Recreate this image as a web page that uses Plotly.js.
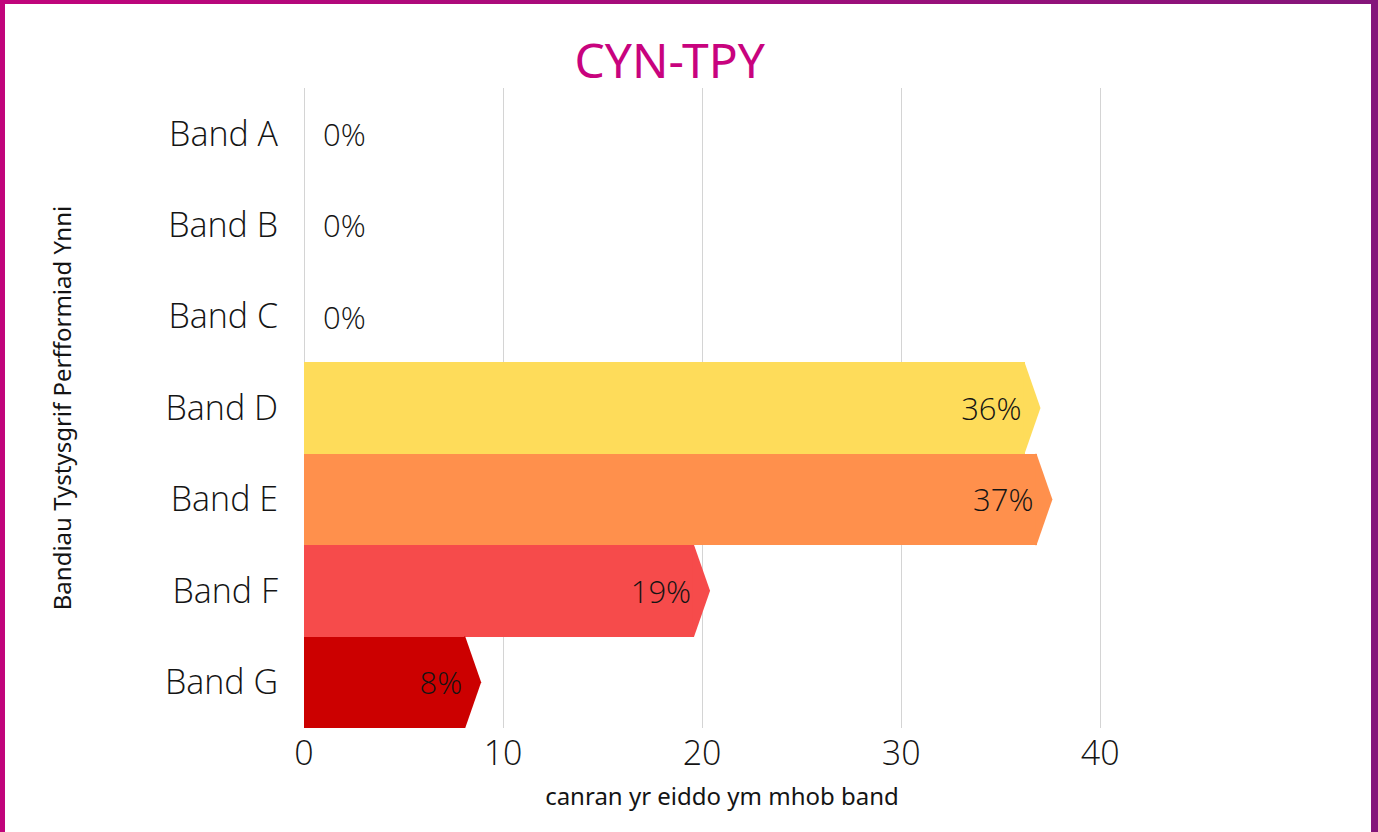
<!DOCTYPE html>
<html>
<head>
<meta charset="utf-8">
<script src="https://cdn.plot.ly/plotly-3.0.1.min.js"></script>
<style>
  html, body { margin: 0; padding: 0; background: #ffffff; }
  #wrap { position: relative; width: 1378px; height: 832px; overflow: hidden; }
  #chart { position: absolute; left: 0; top: 0; width: 1378px; height: 832px; }
  .bd { position: absolute; pointer-events: none; }
  #bl { left: 0; top: 0; width: 5px; height: 832px; background: #c1047b; }
  #bt { left: 0; top: 0; width: 1378px; height: 4px; background: linear-gradient(to right, #c1047b, #84157a); }
  #br { right: 0; top: 0; width: 7px; height: 832px; background: #84157a; }
</style>
</head>
<body>
<div id="wrap">
  <div id="chart"></div>
  <div class="bd" id="bl"></div>
  <div class="bd" id="bt"></div>
  <div class="bd" id="br"></div>
</div>
<script>
// ---- data ----
const bands = ["Band A", "Band B", "Band C", "Band D", "Band E", "Band F", "Band G"];
const barValues = [0, 0, 0, 36.2, 36.8, 19.6, 8.1];   // bar lengths (%)
const valueLabels = ["0%", "0%", "0%", "36%", "37%", "19%", "8%"];
const bandColors = ["#3a9a4a", "#5fb14a", "#a6cb45", "#fedc5a", "#ff904c", "#f64b4b", "#cc0000"];
const xTicks = [0, 10, 20, 30, 40];

const chartTitle = "CYN-TPY";
const xTitle = "canran yr eiddo ym mhob band";
const yTitle = "Bandiau Tystysgrif Perfformiad Ynni";

// ---- build ----
const idx = bands.map((_, i) => i);
const barWidth = 1.0;
const tipLen = 0.8;    // arrow tip length in axis units
const overlap = 0.06;  // small overlap so the tip joins the bar without a seam

const traces = [];

// arrow tips (chevron ends) for each non-zero bar, drawn first so the bar sits over the join
barValues.forEach((v, i) => {
  if (v <= 0) return;
  traces.push({
    type: "scatter",
    mode: "lines",
    x: [v - overlap, v, v + tipLen, v, v - overlap, v - overlap],
    y: [i - barWidth / 2, i - barWidth / 2, i, i + barWidth / 2, i + barWidth / 2, i - barWidth / 2],
    fill: "toself",
    fillcolor: bandColors[i],
    line: { width: 0, color: bandColors[i] },
    hoverinfo: "skip",
    showlegend: false
  });
});

traces.push({
  type: "bar",
  orientation: "h",
  x: barValues,
  y: idx,
  width: barWidth,
  marker: { color: bandColors, line: { width: 0 } },
  text: valueLabels.map((t, i) => barValues[i] > 0 ? t : "\u00a0\u00a0" + t),
  textposition: barValues.map(v => v > 0 ? "inside" : "outside"),
  insidetextanchor: "end",
  textangle: 0,
  constraintext: "none",
  cliponaxis: false,
  textfont: { family: "Open Sans, sans-serif", size: 31, color: "#141414", weight: 300 },
  hoverinfo: "y+x",
  showlegend: false
});

const layout = {
  width: 1378,
  height: 832,
  paper_bgcolor: "#ffffff",
  plot_bgcolor: "#ffffff",
  margin: { l: 304, r: 238, t: 88, b: 104 },
  title: {
    text: chartTitle,
    font: { family: "Noto Sans, sans-serif", size: 48, color: "#c8037e" },
    x: 0.486, xanchor: "center", xref: "container",
    y: 0.926, yanchor: "middle", yref: "container"
  },
  xaxis: {
    range: [0, 42],
    tickvals: xTicks,
    showgrid: true,
    gridcolor: "#d4d4d4",
    gridwidth: 1,
    zeroline: true,
    zerolinecolor: "#d4d4d4",
    showline: false,
    ticks: "",
    ticklabelstandoff: 2,
    tickfont: { family: "Open Sans, sans-serif", size: 34, color: "#141414", weight: 300 },
    title: {
      text: xTitle,
      font: { family: "Noto Sans, sans-serif", size: 24, color: "#141414" },
      standoff: 14
    },
    fixedrange: true
  },
  yaxis: {
    range: [6.5, -0.5],
    tickvals: idx,
    ticktext: bands,
    showgrid: false,
    zeroline: false,
    showline: false,
    ticks: "",
    ticklabelstandoff: 25,
    tickfont: { family: "Open Sans, sans-serif", size: 34, color: "#141414", weight: 300 },
    title: {
      text: yTitle,
      font: { family: "Noto Sans, sans-serif", size: 24, color: "#141414" },
      standoff: 86
    },
    fixedrange: true
  },
  bargap: 0,
  showlegend: false
};

Plotly.newPlot("chart", traces, layout, { displayModeBar: false, staticPlot: true });
</script>
</body>
</html>
